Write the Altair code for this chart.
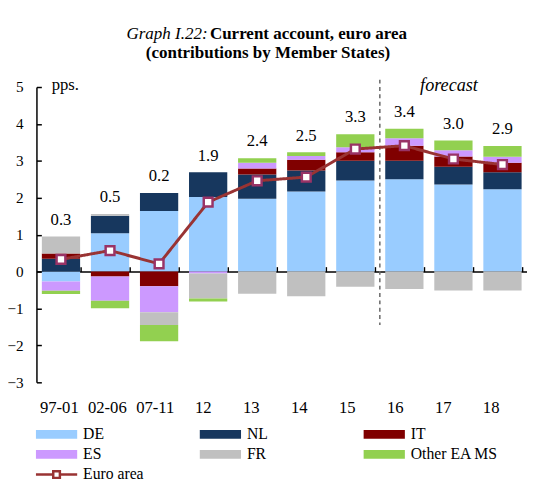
import altair as alt
import pandas as pd

periods = ["97-01", "02-06", "07-11", "12", "13", "14", "15", "16", "17", "18"]
series = ["DE", "NL", "IT", "ES", "FR", "Other EA MS"]
colors = ["#99CCFF", "#17375E", "#800000", "#CC99FF", "#C0C0C0", "#92D050"]

de = [-0.27, 1.04, 1.64, 2.02, 1.97, 2.17, 2.47, 2.50, 2.36, 2.23]
nl = [0.35, 0.47, 0.49, 0.67, 0.66, 0.57, 0.53, 0.50, 0.48, 0.46]
it = [0.14, -0.13, -0.40, 0.00, 0.16, 0.29, 0.23, 0.41, 0.28, 0.26]
es = [-0.25, -0.66, -0.70, -0.05, 0.16, 0.10, 0.14, 0.20, 0.17, 0.16]
fr = [0.46, 0.05, -0.35, -0.68, -0.60, -0.67, -0.41, -0.47, -0.51, -0.51]
other = [-0.09, -0.20, -0.44, -0.08, 0.12, 0.10, 0.35, 0.26, 0.26, 0.29]
euro_area = [0.33, 0.57, 0.21, 1.88, 2.46, 2.56, 3.32, 3.41, 3.05, 2.90]
euro_labels = ["0.3", "0.5", "0.2", "1.9", "2.4", "2.5", "3.3", "3.4", "3.0", "2.9"]
forecast_from = "16"
forecast_label_at = "17"

title_graph = "Graph I.22:"
title_main = "Current account, euro area"
title_sub = "(contributions by Member States)"

FONT = "Liberation Serif"
W, H = 500, 301

rows = []
for k, (name, vals) in enumerate(zip(series, [de, nl, it, es, fr, other])):
    for p, v in zip(periods, vals):
        rows.append({"period": p, "series": name, "k": k, "v": v})
bars_df = pd.DataFrame(rows)

pos_top = [sum(max(v, 0) for v in col) for col in zip(de, nl, it, es, fr, other)]
ea_df = pd.DataFrame({"period": periods, "ea": euro_area, "label": euro_labels,
                      "top": pos_top, "name": ["Euro area"] * len(periods)})
rule_df = pd.DataFrame({"period": [forecast_from], "y1": [5.2], "y2": [-1.45]})
fc_df = pd.DataFrame({"period": [forecast_label_at], "y": [5.0], "t": ["forecast"]})

xscale = alt.Scale(domain=periods, paddingInner=0.22, paddingOuter=0.11)
yscale = alt.Scale(domain=[-3, 5], nice=False, zero=False)
yvals = list(range(-3, 6))

bar_path = "M-4.67,-1H4.67V1H-4.67Z"
line_path = "M-4.67,0H-0.75M0.75,0H4.67M-0.75,-0.75H0.75V0.75H-0.75Z"

bars = alt.Chart(bars_df).mark_bar().encode(
    x=alt.X("period:N", scale=xscale, sort=periods,
            axis=alt.Axis(orient="bottom", title=title_sub, titleX=235.5, titleY=-330.7,
                          titleAlign="center", titleBaseline="alphabetic", titleFont=FONT,
                          titleFontSize=17.3, titleFontWeight="bold", titleColor="black",
                          labelAngle=0, domain=False, ticks=False, labelPadding=18,
                          labelOffset={"expr": "-1.7 - 9.8 * datum.index"},
                          labelFontSize=17, labelFont=FONT, labelColor="black")),
    y=alt.Y("v:Q", scale=yscale, stack="zero",
            axis=alt.Axis(orient="left", values=yvals, title="pps.", titleAngle=0,
                          titleX=15, titleY=3, titleAlign="left", titleBaseline="alphabetic",
                          titleFont=FONT, titleFontSize=17, titleFontWeight="normal",
                          titleColor="black", domain=True, domainColor="black",
                          domainWidth=1.5, ticks=False, tickSize=0, labelPadding=13.5,
                          labelFontSize=15.5, labelFont=FONT, labelColor="black", grid=False)),
    color=alt.Color("series:N", scale=alt.Scale(domain=series, range=colors),
                    legend=alt.Legend(title=None, orient="none", legendX=12.5, legendY=346,
                                      columns=3, direction="horizontal", symbolType=bar_path,
                                      symbolSize=81, symbolStrokeWidth=0, labelFont=FONT,
                                      labelFontSize=16, labelColor="black", labelOffset=19,
                                      columnPadding=29, rowPadding=4.5, gridAlign="all",
                                      padding=0)),
    order=alt.Order("k:Q", sort="ascending"),
)

line = alt.Chart(ea_df).mark_line(color="#993333", strokeWidth=3).encode(
    x=alt.X("period:N", scale=xscale, sort=periods,
            axis=alt.Axis(orient="top", offset=-188.1, title=title_main, titleX=176.3,
                          titleY=-237.1, titleAlign="left", titleBaseline="alphabetic",
                          titleFont=FONT, titleFontSize=17.3, titleFontWeight="bold",
                          titleColor="black", labels=False, domain=True,
                          domainColor="black", domainWidth=1.5, ticks=True, tickSize=5,
                          tickColor="black", tickWidth=1.5, tickBand="extent")),
    y=alt.Y("ea:Q", scale=yscale,
            axis=alt.Axis(orient="right", offset=-W, title=title_graph, titleAngle=0,
                          titleX=91.3, titleY=-49, titleAlign="left",
                          titleBaseline="alphabetic", titleFont=FONT, titleFontSize=17.3,
                          titleFontWeight="normal", titleFontStyle="italic",
                          titleColor="black", labels=False, domain=False,
                          ticks=True, tickSize=5, tickColor="black", tickWidth=1.5,
                          values=yvals, grid=False)),
    strokeDash=alt.StrokeDash("name:N", scale=alt.Scale(domain=["Euro area"], range=[[1, 0]]),
                              legend=alt.Legend(title=None, orient="none", legendX=12.5,
                                                legendY=387, symbolType=line_path,
                                                symbolSize=81, symbolStrokeWidth=2.5,
                                                symbolStrokeColor="#993333",
                                                symbolFillColor="white", labelFont=FONT,
                                                labelFontSize=16, labelColor="black",
                                                labelOffset=19, padding=0)),
)

pts = alt.Chart(ea_df).mark_point(shape="square", filled=True, fill="white", stroke="#993366",
                                  strokeWidth=2.5, size=80, opacity=1).encode(
    x=alt.X("period:N", scale=xscale, sort=periods, axis=None),
    y=alt.Y("ea:Q", scale=yscale, axis=None),
)

txt = alt.Chart(ea_df).mark_text(font=FONT, fontSize=17, dy=-17, baseline="middle",
                                 color="black").encode(
    x=alt.X("period:N", scale=xscale, sort=periods, axis=None),
    y=alt.Y("top:Q", scale=yscale, axis=None),
    text="label:N",
)

rule = alt.Chart(rule_df).mark_rule(strokeDash=[4, 3.5], color="#666666", strokeWidth=1.5,
                                    xOffset=-25).encode(
    x=alt.X("period:N", scale=xscale, sort=periods, axis=None),
    y=alt.Y("y1:Q", scale=yscale, axis=None),
    y2="y2:Q",
)

fc = alt.Chart(fc_df).mark_text(font=FONT, fontSize=18.5, fontStyle="italic",
                                baseline="middle", dx=-4.5, dy=-2, color="black").encode(
    x=alt.X("period:N", scale=xscale, sort=periods, axis=None),
    y=alt.Y("y:Q", scale=yscale, axis=None),
    text="t:N",
)

chart = alt.layer(bars, rule, line, pts, txt, fc).resolve_axis(
    x="independent", y="independent"
).properties(
    width=W, height=H,
    autosize=alt.AutoSizeParams(type="none"),
    padding={"left": 29, "top": 76, "right": 0, "bottom": 94},
).configure_view(stroke=None)

chart.save("out.html", embed_options={"renderer": "svg", "actions": False})
